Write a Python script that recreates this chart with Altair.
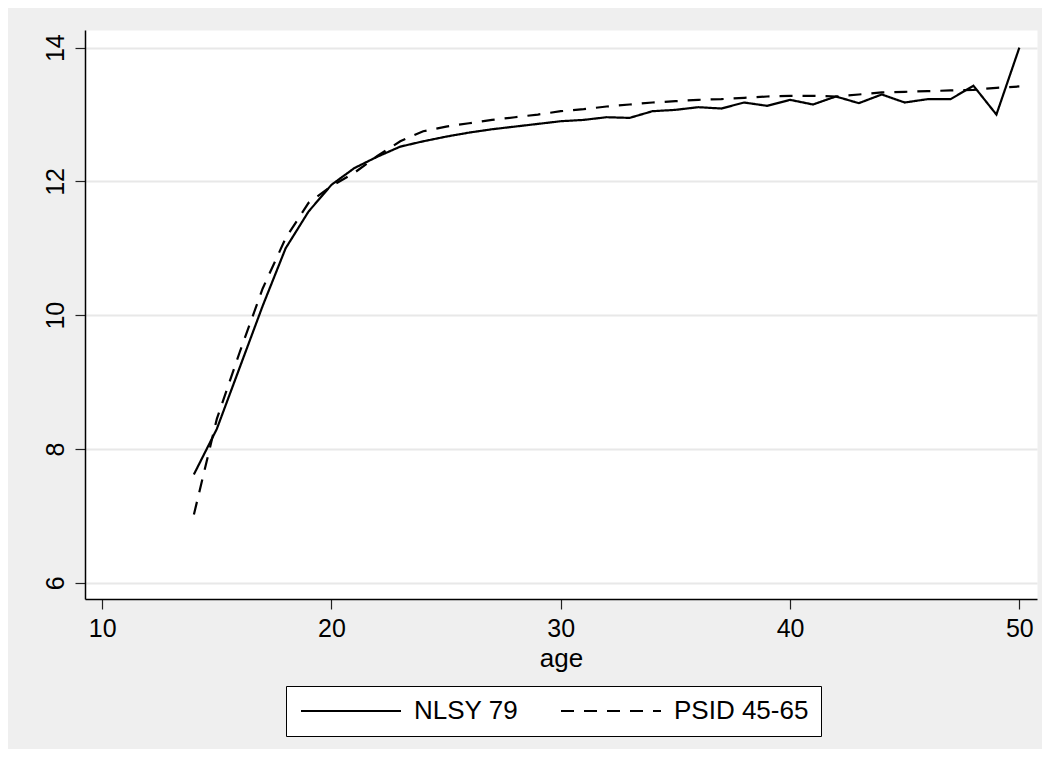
import altair as alt
import pandas as pd

ages = list(range(14, 51))
nlsy79 = [7.62, 8.30, 9.22, 10.14, 11.00, 11.55, 11.95, 12.20, 12.37, 12.52,
          12.60, 12.67, 12.73, 12.78, 12.82, 12.86, 12.90, 12.92, 12.96, 12.95,
          13.05, 13.07, 13.11, 13.09, 13.18, 13.13, 13.22, 13.15, 13.27, 13.17,
          13.30, 13.18, 13.23, 13.23, 13.43, 13.00, 14.00]
psid4565 = [7.02, 8.45, 9.45, 10.40, 11.15, 11.68, 11.93, 12.13, 12.38, 12.60,
            12.75, 12.82, 12.87, 12.92, 12.96, 13.00, 13.05, 13.08, 13.12, 13.15,
            13.18, 13.20, 13.22, 13.23, 13.25, 13.27, 13.28, 13.28, 13.27, 13.30,
            13.33, 13.34, 13.35, 13.36, 13.37, 13.40, 13.42]
series_names = ["NLSY 79", "PSID 45-65"]
x_ticks = [10, 20, 30, 40, 50]
y_ticks = [6, 8, 10, 12, 14]

df = pd.DataFrame({
    "age": ages + ages,
    "value": nlsy79 + psid4565,
    "series": [series_names[0]] * len(ages) + [series_names[1]] * len(ages),
})

FONT = "Liberation Sans"

chart = alt.Chart(df).mark_line(color="black", strokeWidth=2.2).encode(
    x=alt.X("age:Q",
            scale=alt.Scale(domain=[9.25, 50.77], nice=False, zero=False),
            axis=alt.Axis(values=x_ticks, title="age", grid=False,
                          labelPadding=7, titleBaseline="alphabetic", titleY=67)),
    y=alt.Y("value:Q",
            scale=alt.Scale(domain=[5.757, 14.264], nice=False, zero=False),
            axis=alt.Axis(values=y_ticks, title=None, grid=True,
                          labelAngle=270, labelAlign="center",
                          labelBaseline="alphabetic", labelPadding=12)),
    strokeDash=alt.StrokeDash(
        "series:N",
        scale=alt.Scale(domain=series_names, range=[[1, 0], [13, 10]]),
        legend=alt.Legend(title=None, orient="none", legendX=201, legendY=656,
                          direction="horizontal", symbolType="M-1,0L9,0",
                          symbolSize=400, symbolStrokeWidth=2,
                          symbolStrokeColor="black", labelFont=FONT,
                          labelFontSize=26, labelColor="black", labelOffset=90,
                          columnPadding=38, padding=12, strokeColor="black",
                          fillColor="white")),
    detail="series:N",
).properties(
    width=952,
    height=569,
    autosize=alt.AutoSizeParams(type="none"),
    padding={"left": 77, "top": 22, "right": 5, "bottom": 150},
    background="#efefef",
).configure_view(
    fill="white", stroke="transparent"
).configure_axis(
    domainColor="black", domainWidth=1.5,
    tickColor="#222222", tickWidth=1.2, tickSize=10,
    labelFont=FONT, labelFontSize=25, labelColor="black",
    titleFont=FONT, titleFontSize=26, titleFontWeight="normal", titleColor="black",
    gridColor="#e8e8e8", gridWidth=2,
)

chart.save("out.html", embed_options={"renderer": "svg", "actions": False})
